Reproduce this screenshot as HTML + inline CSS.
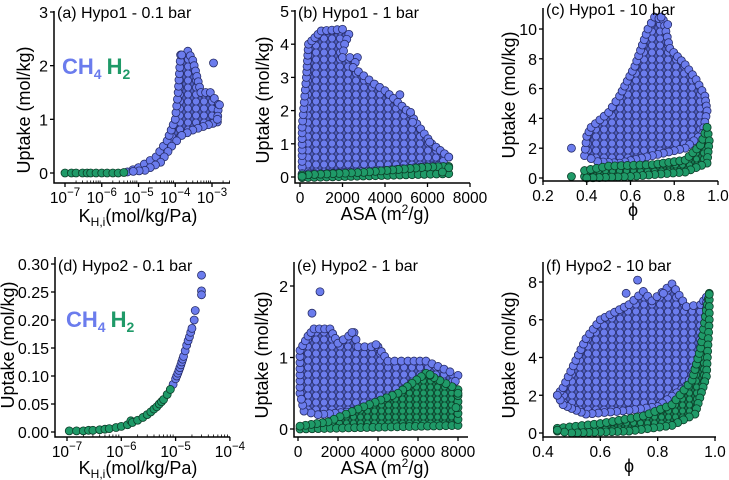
<!DOCTYPE html>
<html><head><meta charset="utf-8">
<style>
html,body{margin:0;padding:0;background:#fff;}
svg{display:block;font-family:"Liberation Sans",sans-serif;}
</style></head>
<body>
<svg id="chart" width="729" height="480" viewBox="0 0 729 480" xmlns="http://www.w3.org/2000/svg">
<defs>
<pattern id="pb" width="8" height="7" patternUnits="userSpaceOnUse">
<rect width="8" height="7" fill="#4f5fc4"/>
<circle cx="4" cy="3.5" r="3.6" fill="#6b7ced" stroke="#262c66" stroke-width="0.8"/>
</pattern>
<pattern id="pg" width="7" height="6" patternUnits="userSpaceOnUse">
<rect width="7" height="6" fill="#157a52"/>
<circle cx="3.5" cy="3" r="3.1" fill="#1f9a68" stroke="#0c3d28" stroke-width="0.8"/>
</pattern>
</defs>
</svg>
<script>
// ---- data ----
const aBlueEnv=[[5e-6,0.02],[1e-5,0.1],[3e-5,0.3],[6e-5,0.6],[1e-4,1.0],[1.2e-4,1.5],[1.4e-4,2.2],[2.2e-4,2.27],[3e-4,2.1],[5e-4,1.5],[9e-4,1.5],[1.5e-3,1.28],[1.4e-3,0.95],[8e-4,0.9],[3e-4,0.8],[1.5e-4,0.7],[8e-5,0.5],[4e-5,0.2],[1.5e-5,0.05]];
const aBluePts=[[1.1e-3,2.05],[1.4e-3,1.0],[1.6e-3,1.27],[1.5e-4,2.2]];
const aGreenPts=[[1e-7,0],[1.5e-7,0],[2e-7,0],[3e-7,0],[4e-7,0],[5e-7,0],[7e-7,0],[1e-6,0],[1.4e-6,0],[2e-6,0],[2.8e-6,0],[4e-6,0.01]];
const bBlueEnv=[[100,0.3],[100,1.5],[300,3.0],[400,4.0],[700,4.2],[1000,4.4],[2000,4.45],[2300,4.3],[2100,4.0],[2000,3.6],[2700,3.6],[2500,3.3],[3500,2.8],[4000,2.6],[5200,1.9],[5500,1.6],[6200,1.0],[7000,0.6],[6500,0.35],[4000,0.2],[1000,0.1],[100,0.1]];
const bBluePts=[[4700,2.48],[5200,1.95],[5300,1.65],[6100,1.05],[7000,0.6]];
const bGreenEnv=[[100,-0.02],[7000,0.1],[7000,0.32],[6000,0.3],[3000,0.14],[100,0.06]];
const bGreenPts=[[7000,0.28],[6700,0.15],[100,0.02]];
const cBlueEnv=[[0.39,1.5],[0.40,2.8],[0.42,3.4],[0.5,4.4],[0.55,5.5],[0.62,7.5],[0.68,10],[0.71,10.8],[0.75,10.6],[0.78,8.7],[0.85,7.6],[0.9,6.6],[0.94,5.5],[0.95,4.5],[0.93,3.0],[0.85,2.0],[0.7,1.5],[0.55,1.0],[0.45,1.1]];
const cBluePts=[[0.33,2.0],[0.77,10.3],[0.74,10.8]];
const cGreenEnv=[[0.39,0.1],[0.39,0.5],[0.5,0.8],[0.7,0.9],[0.85,1.2],[0.92,2.2],[0.95,3.4],[0.96,2.5],[0.95,1.0],[0.85,0.4],[0.6,0.1],[0.4,0.0]];
const cGreenPts=[[0.33,0.1],[0.95,3.4]];
const dGreenPts=[[1.1e-7,0.002],[1.5e-7,0.002],[2e-7,0.002],[2.5e-7,0.003],[3e-7,0.003],[4e-7,0.004],[5e-7,0.005],[6e-7,0.006],[8e-7,0.008],[1e-6,0.01],[1.3e-6,0.013],[1.5e-6,0.02],[1.6e-6,0.017],[2e-6,0.021],[2.5e-6,0.026],[3e-6,0.031],[3.5e-6,0.036],[4e-6,0.041],[4.5e-6,0.045],[5e-6,0.05],[5.5e-6,0.054],[6e-6,0.058],[7e-6,0.067],[8e-6,0.076]];
const dBluePts=[[9e-6,0.085],[1e-5,0.095],[1.05e-5,0.1],[1.1e-5,0.105],[1.15e-5,0.11],[1.2e-5,0.115],[1.25e-5,0.12],[1.3e-5,0.125],[1.35e-5,0.13],[1.4e-5,0.135],[1.5e-5,0.145],[1.6e-5,0.155],[1.7e-5,0.163],[1.8e-5,0.17],[1.9e-5,0.178],[2e-5,0.185],[2.2e-5,0.2],[2.3e-5,0.217],[3e-5,0.28],[3e-5,0.252],[3e-5,0.245]];
const eBlueEnv=[[100,0.5],[100,1.1],[500,1.3],[800,1.4],[1600,1.4],[2000,1.2],[2800,1.35],[3000,1.15],[4000,1.15],[4500,0.95],[5500,0.95],[6400,0.95],[7600,0.8],[8000,0.75],[7600,0.5],[5000,0.35],[3000,0.25],[1000,0.2],[300,0.25]];
const eBluePts=[[1100,1.92],[700,1.62],[2700,1.35],[3900,1.18]];
const eGreenEnv=[[100,0],[8000,0.05],[8000,0.55],[6800,0.72],[6400,0.78],[5000,0.5],[3000,0.28],[1500,0.1],[100,0.04]];
const eGreenPts=[[8000,0.5],[7900,0.3],[6600,0.76]];
const fBlueEnv=[[0.45,2.0],[0.47,2.4],[0.55,5.0],[0.6,6.0],[0.65,6.4],[0.7,6.8],[0.75,7.5],[0.78,7.0],[0.85,7.9],[0.9,6.7],[0.95,6.8],[0.97,7.2],[0.97,6.0],[0.95,4.0],[0.9,2.5],[0.8,1.4],[0.7,1.2],[0.55,1.0],[0.5,1.3],[0.47,1.5]];
const fBluePts=[[0.73,8.1],[0.69,7.4],[0.82,7.4],[0.45,2.0]];
const fGreenEnv=[[0.45,0.1],[0.45,0.25],[0.6,0.5],[0.75,0.9],[0.85,1.5],[0.92,2.8],[0.95,4.5],[0.97,6.5],[0.98,7.4],[0.98,6.0],[0.97,3.0],[0.93,1.0],[0.85,0.4],[0.7,0.1],[0.5,0.0]];
const fGreenPts=[[0.98,7.35],[0.45,0.15]];
const aXTicks=[-7,-6,-5,-4,-3]; const aYTicks=[0,1,2,3];
const bXTicks=[0,2000,4000,6000,8000]; const bYTicks=[0,1,2,3,4,5];
const cXTicks=[0.2,0.4,0.6,0.8,1.0]; const cYTicks=[0,2,4,6,8,10];
const dXTicks=[-7,-6,-5,-4]; const dYTicks=[0,0.05,0.10,0.15,0.20,0.25,0.30];
const eXTicks=[0,2000,4000,6000,8000]; const eYTicks=[0,1,2];
const fXTicks=[0.4,0.6,0.8,1.0]; const fYTicks=[0,2,4,6,8];

const NS="http://www.w3.org/2000/svg";
const svg=document.getElementById('chart');
function mk(tag,attrs,parent){const e=document.createElementNS(NS,tag);for(const k in attrs)e.setAttribute(k,attrs[k]);(parent||svg).appendChild(e);return e;}
const BLUE="#6b7ced",GREEN="#1f9a68";

function panel(cfg){
  const g=mk('g',{});
  
  
  const xs=v=>cfg.log? cfg.x0+cfg.dec*(Math.log10(v)+7) : cfg.x0+(v-cfg.xmin)*(cfg.x1-cfg.x0)/(cfg.xmax-cfg.xmin);
  const ys=v=>cfg.y0+(v-cfg.ymin)*(cfg.y1-cfg.y0)/(cfg.ymax-cfg.ymin);
  const env=(arr,fill,col,stroke,nm)=>{
    const pts=arr.map(p=>[xs(p[0]),ys(p[1])]);
    const poly=mk('polygon',{points:pts.map(p=>p.join(',')).join(' '),fill:fill,stroke:'none'},g);
    
    
    for(let i=0;i<pts.length;i++){
      const a=pts[i],b=pts[(i+1)%pts.length];
      const L=Math.hypot(b[0]-a[0],b[1]-a[1]);const n=Math.max(1,Math.round(L/6));
      for(let k=0;k<n;k++){const t=k/n;
        const c=mk('circle',{cx:a[0]+(b[0]-a[0])*t,cy:a[1]+(b[1]-a[1])*t,r:4,fill:col,stroke:stroke,'stroke-width':0.8},g);
        
        
      }
    }
  };
  const pts=(arr,col,stroke,nm)=>{arr.forEach(p=>{
    const c=mk('circle',{cx:xs(p[0]),cy:ys(p[1]),r:4,fill:col,stroke:stroke,'stroke-width':0.8},g);
    
    
  });};
  cfg.draw(env,pts);
  const ax=mk('path',{d:`M${cfg.ax} ${cfg.ayTop} V${cfg.ay} H${cfg.axEnd}`,stroke:'#000','stroke-width':1.5,fill:'none'},g);
  
  
  cfg.xt.forEach(v=>{
    const x=cfg.log?cfg.x0+cfg.dec*(v+7):xs(v);
    mk('line',{x1:x,x2:x,y1:cfg.ay,y2:cfg.ay+4,stroke:'#000','stroke-width':1.3},g);
    const t=mk('text',{x:x,y:cfg.ay+20,'text-anchor':'middle','font-size':15.5},g);
    
    
    if(cfg.log){t.textContent='10';const s=mk('tspan',{dy:-7,'font-size':11.5},t);s.textContent='\u2212'+(-v);}
    else t.textContent=cfg.fmt?cfg.fmt(v):String(v);
    if(cfg.log){for(let m=2;m<10;m++){const xm=x+cfg.dec*Math.log10(m);if(xm<cfg.axEnd)mk('line',{x1:xm,x2:xm,y1:cfg.ay,y2:cfg.ay-2.5,stroke:'#000','stroke-width':0.8},g);}}
  });
  cfg.yt.forEach(v=>{
    const y=ys(v);
    mk('line',{x1:cfg.ax-4,x2:cfg.ax,y1:y,y2:y,stroke:'#000','stroke-width':1.3},g);
    const t=mk('text',{x:cfg.ax-6,y:y+6,'text-anchor':'end','font-size':16},g);
    
    
    t.textContent=cfg.yfmt?cfg.yfmt(v):String(v);
  });
  const tt=mk('text',{x:cfg.ax+3,y:cfg.titleY,'font-size':16},g);
  
  
  tt.textContent=cfg.title;
  const yl=mk('text',{x:0,y:0,'font-size':18,'text-anchor':'middle',transform:`translate(${cfg.ylx},${cfg.yly}) rotate(-90)`},g);
  
  
  yl.textContent='Uptake (mol/kg)';
  const xl=mk('text',{x:cfg.xlx,y:cfg.xly,'font-size':18,'text-anchor':'middle'},g);
  
  
  if(cfg.xlab==='KH'){xl.textContent='K';const s=mk('tspan',{dy:4,'font-size':12},xl);s.textContent='H,i';const s2=mk('tspan',{dy:-4},xl);s2.textContent='(mol/kg/Pa)';}
  else if(cfg.xlab==='ASA'){xl.textContent='ASA (m';const s=mk('tspan',{dy:-7,'font-size':12},xl);s.textContent='2';const s2=mk('tspan',{dy:7},xl);s2.textContent='/g)';}
  else xl.textContent='\u03d5';
  if(cfg.legend){
    const lg=mk('text',{x:cfg.legend[0],y:cfg.legend[1],'font-size':22,'font-weight':'bold'},g);
    
    
    const a=mk('tspan',{fill:BLUE},lg);a.textContent='CH';
    const b=mk('tspan',{fill:BLUE,dy:5,'font-size':14},lg);b.textContent='4';
    const c=mk('tspan',{fill:GREEN,dy:-5,dx:5},lg);c.textContent='H';
    const d=mk('tspan',{fill:GREEN,dy:5,'font-size':14},lg);d.textContent='2';
  }
}
const SB="#262c66",SG="#0c3d28";
panel({name:'panel-a',log:true,x0:65,dec:36.75,y0:173,y1:12,ymin:0,ymax:3,ax:54,ay:183,ayTop:11,axEnd:230,xt:aXTicks,yt:aYTicks,title:'(a) Hypo1 - 0.1 bar',titleY:18,ylx:30,yly:110,xlx:138,xly:222,xlab:'KH',legend:[62,74],
 draw:(env,pts)=>{env(aBlueEnv,'url(#pb)',BLUE,SB,'ch4');pts(aBluePts,BLUE,SB,'ch4');pts(aGreenPts,GREEN,SG,'h2');}});
panel({name:'panel-b',x0:300,x1:470,xmin:0,xmax:8000,y0:177,y1:11,ymin:0,ymax:5,ax:295,ay:183,ayTop:10,axEnd:470,xt:bXTicks,yt:bYTicks,title:'(b) Hypo1 - 1 bar',titleY:18,ylx:269,yly:100,xlx:385,xly:220,xlab:'ASA',
 draw:(env,pts)=>{env(bBlueEnv,'url(#pb)',BLUE,SB,'ch4');pts(bBluePts,BLUE,SB,'ch4');env(bGreenEnv,'url(#pg)',GREEN,SG,'h2');pts(bGreenPts,GREEN,SG,'h2');}});
panel({name:'panel-c',x0:543,x1:718,xmin:0.2,xmax:1.0,y0:178,y1:29,ymin:0,ymax:10,ax:543,ay:181,ayTop:8,axEnd:718,xt:cXTicks,yt:cYTicks,fmt:v=>v.toFixed(1),title:'(c) Hypo1 - 10 bar',titleY:15,ylx:515,yly:95,xlx:633,xly:216,xlab:'phi',
 draw:(env,pts)=>{env(cBlueEnv,'url(#pb)',BLUE,SB,'ch4');pts(cBluePts,BLUE,SB,'ch4');env(cGreenEnv,'url(#pg)',GREEN,SG,'h2');pts(cGreenPts,GREEN,SG,'h2');}});
panel({name:'panel-d',log:true,x0:67,dec:54.3,y0:432,y1:264,ymin:0,ymax:0.30,ax:55,ay:437,ayTop:257,axEnd:230,xt:dXTicks,yt:dYTicks,yfmt:v=>v.toFixed(2),title:'(d) Hypo2 - 0.1 bar',titleY:271,ylx:14,yly:345,xlx:138,xly:474,xlab:'KH',legend:[66,327],
 draw:(env,pts)=>{pts(dBluePts,BLUE,SB,'ch4');pts(dGreenPts,GREEN,SG,'h2');}});
panel({name:'panel-e',x0:298,x1:458,xmin:0,xmax:8000,y0:429,y1:286,ymin:0,ymax:2,ax:294,ay:437,ayTop:262,axEnd:468,xt:eXTicks,yt:eYTicks,title:'(e) Hypo2 - 1 bar',titleY:271,ylx:268,yly:355,xlx:385,xly:474,xlab:'ASA',
 draw:(env,pts)=>{env(eBlueEnv,'url(#pb)',BLUE,SB,'ch4');pts(eBluePts,BLUE,SB,'ch4');env(eGreenEnv,'url(#pg)',GREEN,SG,'h2');pts(eGreenPts,GREEN,SG,'h2');}});
panel({name:'panel-f',x0:543,x1:715,xmin:0.4,xmax:1.0,y0:433,y1:282,ymin:0,ymax:8,ax:543,ay:437,ayTop:262,axEnd:716,xt:fXTicks,yt:fYTicks,fmt:v=>v.toFixed(1),title:'(f) Hypo2 - 10 bar',titleY:271,ylx:515,yly:355,xlx:629,xly:472,xlab:'phi',
 draw:(env,pts)=>{env(fBlueEnv,'url(#pb)',BLUE,SB,'ch4');pts(fBluePts,BLUE,SB,'ch4');env(fGreenEnv,'url(#pg)',GREEN,SG,'h2');pts(fGreenPts,GREEN,SG,'h2');}});
</script>
</body></html>
